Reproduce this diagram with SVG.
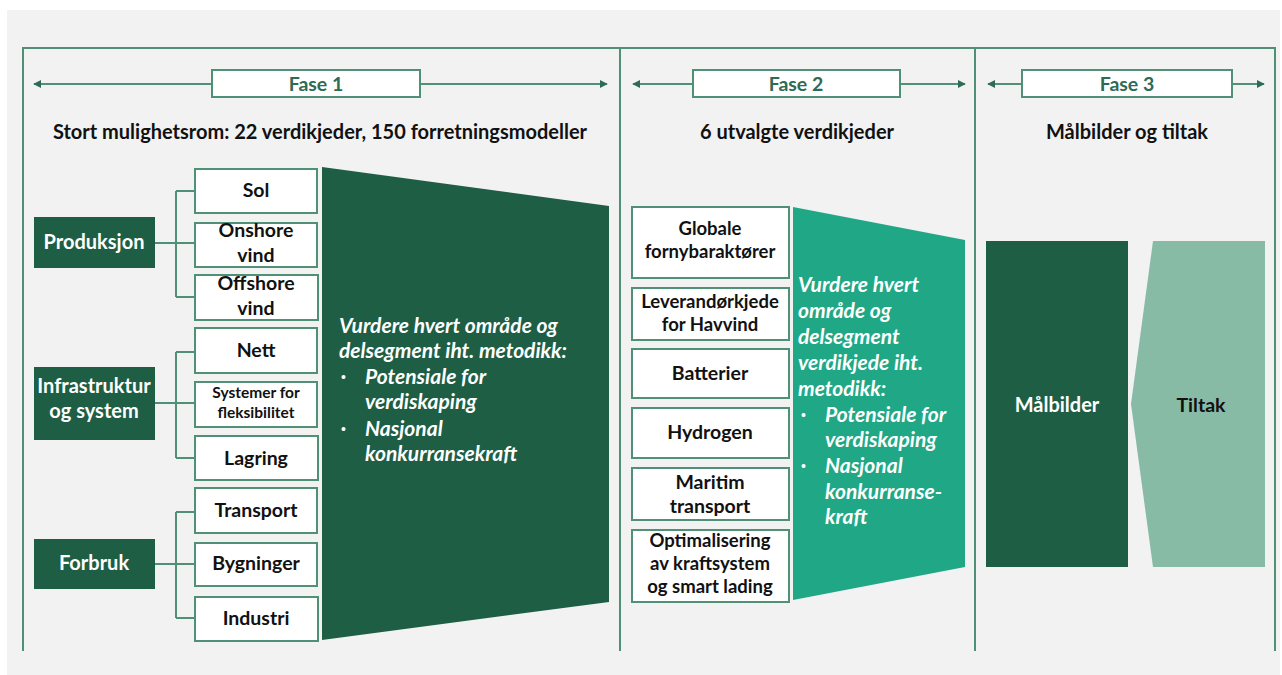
<svg xmlns="http://www.w3.org/2000/svg" width="1282" height="675" viewBox="0 0 1282 675">
  <style>
    .frame { fill: none; stroke: #4f9077; stroke-width: 2; }
    .conn { fill: none; stroke: #4f9077; stroke-width: 2; }
    .item { fill: #ffffff; stroke: #4f9077; stroke-width: 2; }
    .cat { fill: #1d5e45; }
    .t { font-family: Lato, "Liberation Sans", sans-serif; font-weight: bold; text-anchor: middle; }
    .fase { font-size: 19.5px; fill: #2e6b55; }
    .sub { font-size: 20px; fill: #111111; }
    .dark { font-size: 19.5px; fill: #111111; }
    .dark2 { font-size: 18.5px; fill: #111111; }
    .white { font-size: 20px; fill: #ffffff; }
    .small { font-size: 15.5px; fill: #111111; }
    .it { font-family: Lato, "Liberation Sans", sans-serif; font-weight: bold; font-style: italic; font-size: 21px; fill: #ffffff; }
    .dot { font-family: "Liberation Sans", sans-serif; font-size: 14px; fill: #ffffff; }
  </style>
  <defs>
    <marker id="ah" viewBox="0 0 10 10" refX="9" refY="5" markerWidth="4" markerHeight="4" orient="auto-start-reverse">
      <path d="M0,0 L10,5 L0,10 z" fill="#2e6b55"/>
    </marker>
  </defs>

  <!-- canvas -->
  <rect x="7" y="10" width="1273" height="665" fill="#f2f2f2"/>

  <!-- phase frame and dividers (open at the bottom) -->
  <g id="frame">
    <path class="frame" d="M23,651 V48 H1275 V651"/>
    <line class="frame" x1="620" y1="48" x2="620" y2="651"/>
    <line class="frame" x1="975" y1="48" x2="975" y2="651"/>
  </g>

  <!-- phase headers -->
  <g id="fase1">
    <line class="conn" x1="34" y1="84" x2="212" y2="84" marker-start="url(#ah)"/>
    <line class="conn" x1="420" y1="84" x2="607" y2="84" marker-end="url(#ah)"/>
    <rect class="item" x="212" y="70" width="208" height="27"/>
    <text class="t fase" x="316" y="91">Fase 1</text>
    <text class="t sub" x="320" y="139">Stort mulighetsrom: 22 verdikjeder, 150 forretningsmodeller</text>
  </g>
  <g id="fase2">
    <line class="conn" x1="633" y1="84" x2="693" y2="84" marker-start="url(#ah)"/>
    <line class="conn" x1="900" y1="84" x2="965" y2="84" marker-end="url(#ah)"/>
    <rect class="item" x="693" y="70" width="207" height="27"/>
    <text class="t fase" x="796" y="91">Fase 2</text>
    <text class="t sub" x="797" y="139">6 utvalgte verdikjeder</text>
  </g>
  <g id="fase3">
    <line class="conn" x1="988" y1="84" x2="1022" y2="84" marker-start="url(#ah)"/>
    <line class="conn" x1="1232" y1="84" x2="1264" y2="84" marker-end="url(#ah)"/>
    <rect class="item" x="1022" y="70" width="210" height="27"/>
    <text class="t fase" x="1127" y="91">Fase 3</text>
    <text class="t sub" x="1127" y="139">Målbilder og tiltak</text>
  </g>

  <!-- bracket connectors from categories to items -->
  <g id="connectors">
    <path class="conn" d="M155,243 H195 M176,191 V297 M176,191 H195 M176,297 H195"/>
    <path class="conn" d="M155,403 H195 M176,352 V458 M176,352 H195 M176,458 H195"/>
    <path class="conn" d="M155,564 H195 M176,512 V618 M176,512 H195 M176,618 H195"/>
  </g>

  <!-- categories -->
  <g id="produksjon">
    <rect class="cat" x="34" y="217" width="121" height="51"/>
    <text class="t white" x="94" y="249">Produksjon</text>
  </g>
  <g id="infrastruktur">
    <rect class="cat" x="34" y="367" width="121" height="73"/>
    <text class="t white" x="94" y="393">Infrastruktur</text>
    <text class="t white" x="94" y="418">og system</text>
  </g>
  <g id="forbruk">
    <rect class="cat" x="34" y="539" width="121" height="50"/>
    <text class="t white" x="94" y="570">Forbruk</text>
  </g>

  <!-- phase 1 items -->
  <g id="sol">
    <rect class="item" x="195" y="169" width="122" height="44"/>
    <text class="t dark" x="256" y="197">Sol</text>
  </g>
  <g id="onshore">
    <rect class="item" x="195" y="223" width="122" height="44"/>
    <text class="t dark" x="256" y="237">Onshore</text>
    <text class="t dark" x="256" y="262">vind</text>
  </g>
  <g id="offshore">
    <rect class="item" x="195" y="275" width="123" height="45"/>
    <text class="t dark" x="256" y="290">Offshore</text>
    <text class="t dark" x="256" y="315">vind</text>
  </g>
  <g id="nett">
    <rect class="item" x="195" y="328" width="122" height="45"/>
    <text class="t dark" x="256" y="357">Nett</text>
  </g>
  <g id="systemer">
    <rect class="item" x="195" y="382" width="122" height="45"/>
    <text class="t small" x="256" y="398">Systemer for</text>
    <text class="t small" x="256" y="418">fleksibilitet</text>
  </g>
  <g id="lagring">
    <rect class="item" x="195" y="436" width="123" height="44"/>
    <text class="t dark" x="256" y="465">Lagring</text>
  </g>
  <g id="transport">
    <rect class="item" x="195" y="488" width="122" height="45"/>
    <text class="t dark" x="256" y="517">Transport</text>
  </g>
  <g id="bygninger">
    <rect class="item" x="195" y="543" width="122" height="43"/>
    <text class="t dark" x="256" y="570">Bygninger</text>
  </g>
  <g id="industri">
    <rect class="item" x="195" y="597" width="123" height="44"/>
    <text class="t dark" x="256" y="625">Industri</text>
  </g>

  <!-- phase 1 funnel -->
  <g id="vurdering1">
    <polygon points="322,167 609,206 609,602 322,640" fill="#1d5e45"/>
    <text class="it" x="339" y="333">Vurdere hvert område og</text>
    <text class="it" x="339" y="358">delsegment iht. metodikk:</text>
    <text class="dot" x="341" y="382">•</text>
    <text class="it" x="365" y="384">Potensiale for</text>
    <text class="it" x="365" y="409">verdiskaping</text>
    <text class="dot" x="341" y="434">•</text>
    <text class="it" x="365" y="436">Nasjonal</text>
    <text class="it" x="365" y="461">konkurransekraft</text>
  </g>

  <!-- phase 2 value chains -->
  <g id="globale">
    <rect class="item" x="632" y="207" width="157" height="71"/>
    <text class="t dark2" x="710" y="235">Globale</text>
    <text class="t dark2" x="710" y="258">fornybaraktører</text>
  </g>
  <g id="leverandor">
    <rect class="item" x="632" y="288" width="157" height="52"/>
    <text class="t dark2" x="710" y="308">Leverandørkjede</text>
    <text class="t dark2" x="710" y="331">for Havvind</text>
  </g>
  <g id="batterier">
    <rect class="item" x="632" y="349" width="157" height="49"/>
    <text class="t dark" x="710" y="380">Batterier</text>
  </g>
  <g id="hydrogen">
    <rect class="item" x="632" y="408" width="157" height="50"/>
    <text class="t dark" x="710" y="439">Hydrogen</text>
  </g>
  <g id="maritim">
    <rect class="item" x="632" y="468" width="157" height="52"/>
    <text class="t dark" x="710" y="489">Maritim</text>
    <text class="t dark" x="710" y="513">transport</text>
  </g>
  <g id="optimalisering">
    <rect class="item" x="632" y="530" width="157" height="72"/>
    <text class="t dark2" x="710" y="547">Optimalisering</text>
    <text class="t dark2" x="710" y="570">av kraftsystem</text>
    <text class="t dark2" x="710" y="593">og smart lading</text>
  </g>

  <!-- phase 2 funnel -->
  <g id="vurdering2">
    <polygon points="793,207 965,240 965,567 793,600" fill="#20a886"/>
    <text class="it" x="798" y="292">Vurdere hvert</text>
    <text class="it" x="798" y="318">område og</text>
    <text class="it" x="798" y="344">delsegment</text>
    <text class="it" x="798" y="370">verdikjede iht.</text>
    <text class="it" x="798" y="396">metodikk:</text>
    <text class="dot" x="801" y="420">•</text>
    <text class="it" x="825" y="422">Potensiale for</text>
    <text class="it" x="825" y="447">verdiskaping</text>
    <text class="dot" x="801" y="471">•</text>
    <text class="it" x="825" y="473">Nasjonal</text>
    <text class="it" x="825" y="499">konkurranse-</text>
    <text class="it" x="825" y="524">kraft</text>
  </g>

  <!-- phase 3 -->
  <g id="malbilder">
    <rect x="986" y="241" width="142" height="326" fill="#1d5e45"/>
    <text class="t white" x="1057" y="412">Målbilder</text>
  </g>
  <g id="tiltak">
    <polygon points="1153,241 1265,241 1265,567 1153,567 1131,404" fill="#88bba6"/>
    <text class="t dark" x="1201" y="412">Tiltak</text>
  </g>
</svg>
